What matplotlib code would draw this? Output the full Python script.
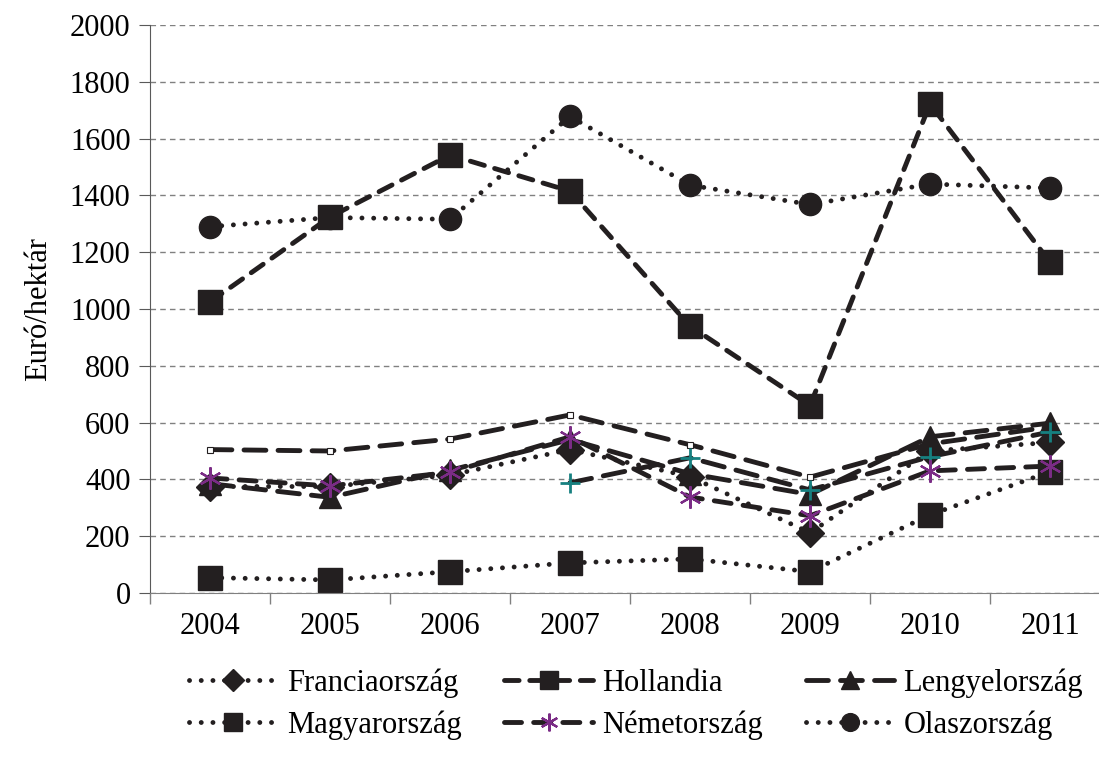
import matplotlib.pyplot as plt

years = ['2004', '2005', '2006', '2007', '2008', '2009', '2010', '2011']
nan = float('nan')

franciaorszag = [375, 375, 415, 505, 410, 212, 500, 530]
hollandia = [1025, 1324, 1542, 1415, 940, 660, 1722, 1165]
lengyelorszag = [385, 337, 432, 540, 420, 347, 550, 598]
magyarorszag = [54, 46, 75, 106, 120, 75, 275, 427]
nemetorszag = [405, 377, 425, 550, 338, 272, 430, 447]
olaszorszag = [1290, 1322, 1316, 1678, 1436, 1368, 1440, 1426]
# two more series drawn in the chart that have no legend entry
extra_dashed = [505, 500, 542, 627, 522, 408, 525, 585]
extra_plus = [nan, nan, nan, 388, 476, 363, 480, 567]

ink = '#231f20'
purple = '#7b2c86'
teal = '#168080'
dotted = (0, (0.01, 2.4))

plt.rcParams['font.family'] = ['Liberation Serif', 'DejaVu Serif']

fig = plt.figure(figsize=(10.99, 7.7), dpi=100)
ax = fig.add_axes([150 / 1099, 1 - 593 / 770, 960 / 1099, 568 / 770])

x = list(range(len(years)))
common = dict(color=ink, lw=3.5, dash_capstyle='round')

ax.plot(x, olaszorszag, ls=dotted, marker='o', ms=16, label='Olaszország', **common)
ax.plot(x, hollandia, ls=(0, (3, 2.2)), marker='s', ms=17, label='Hollandia', **common)
ax.plot(x, extra_dashed, ls=(0, (4.5, 2.5)), marker='s', ms=4, mfc='white', mec=ink,
        mew=0.8, label='_nolegend_', color=ink, lw=3.5, dash_capstyle='round')
ax.plot(x, lengyelorszag, ls=(0, (4.5, 2.5)), marker='^', ms=16, label='Lengyelország', **common)
ax.plot(x, franciaorszag, ls=dotted, marker='D', ms=14, label='Franciaország', **common)
ax.plot(x, magyarorszag, ls=dotted, marker='s', ms=17, label='Magyarország', **common)
ax.plot(x, extra_plus, ls=(0, (4.5, 2.5)), marker='+', ms=15, mec=teal, mew=2,
        label='_nolegend_', color=ink, lw=3.5, dash_capstyle='round')
ax.plot(x, nemetorszag, ls=(0, (3.5, 2.5)), marker=(6, 2, 0), ms=16, mec=purple, mew=1.6,
        label='Németország', **common)

ax.set_xlim(-0.5, len(years) - 0.5)
ax.set_ylim(0, 2000)
ax.set_yticks(range(0, 2001, 200))
ax.set_xticks(x)
ax.set_xticklabels(years)
ax.set_xticks([i - 0.5 for i in range(len(years) + 1)], minor=True)
ax.tick_params(axis='x', which='major', length=0, labelsize=22, pad=14)
ax.tick_params(axis='x', which='minor', length=8, color='#808080', width=1)
ax.tick_params(axis='y', length=8, color='#595959', labelsize=22, pad=6)

ax.yaxis.grid(True, ls=(0, (4, 3)), color='#808080', lw=1)
ax.set_axisbelow(True)
for s in ['top', 'right']:
    ax.spines[s].set_visible(False)
ax.spines['left'].set_color('#595959')
ax.spines['bottom'].set_color('#808080')

ax.set_ylabel('Euró/hektár', fontsize=22, labelpad=12)

handles, labels = ax.get_legend_handles_labels()
lookup = dict(zip(labels, handles))
order = ['Franciaország', 'Magyarország', 'Hollandia', 'Németország',
         'Lengyelország', 'Olaszország']
fig.legend([lookup[n] for n in order], order, loc='center',
           bbox_to_anchor=(636 / 1099, 1 - 704 / 770), ncol=3, frameon=False,
           fontsize=22, handlelength=2.9, handletextpad=0.3, columnspacing=1.4,
           labelspacing=0.4, markerscale=0.8)

plt.savefig('out.png', dpi=100)
plt.close()
